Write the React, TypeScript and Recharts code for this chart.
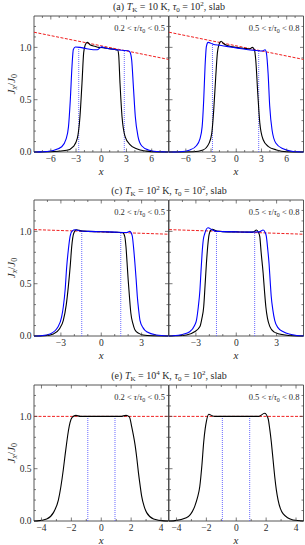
import React from 'react';
import { LineChart, Line, XAxis, YAxis, ReferenceArea, ReferenceLine } from 'recharts';

type P = [number, number];

// ---------- Row (a): T_K = 10 K ----------
const A_X_MAJOR = [-6, -3, 0, 3, 6];
const A_X_TICKS = [-7, -6, -5, -4, -3, -2, -1, 0, 1, 2, 3, 4, 5, 6, 7];
const A_L_BLACK: P[] = [[-8,0],[-6.1,0.002],[-4.1,0.016],[-3.3,0.054],[-2.85,0.13],[-2.53,0.34],[-2.29,0.66],[-2.09,0.95],[-1.9,1.025],[-1.66,1.048],[-1.34,1.025],[-0.74,1.01],[-0.3,1.0],[0.2,0.998],[0.8,0.99],[1.6,0.98],[1.95,0.975],[2.07,0.93],[2.23,0.66],[2.47,0.34],[2.83,0.15],[3.42,0.07],[4.2,0.03],[5.4,0.008],[6.6,0.001],[8,0]];
const A_L_BLUE: P[] = [[-8,0],[-7.3,0.001],[-5.7,0.015],[-4.7,0.05],[-4.2,0.12],[-3.9,0.24],[-3.68,0.5],[-3.48,0.82],[-3.32,0.98],[-3.08,1.003],[-2.53,1.0],[-1.73,0.987],[-0.94,0.978],[-0.47,0.978],[-0.15,0.995],[0.05,1.005],[0.45,0.995],[1.44,0.982],[2.43,0.972],[3.22,0.968],[3.42,0.955],[3.62,0.88],[3.82,0.63],[4.05,0.34],[4.37,0.15],[4.8,0.06],[5.6,0.02],[7,0.002],[8,0]];
const A_R_BLACK: P[] = [[-8,0],[-5.1,0.003],[-3.95,0.02],[-3.23,0.085],[-2.91,0.18],[-2.68,0.4],[-2.44,0.72],[-2.24,0.95],[-2.04,1.03],[-1.8,1.058],[-1.49,1.035],[-0.97,1.016],[0,1.0],[1.0,0.99],[1.6,0.985],[1.92,1.0],[2.16,0.978],[2.32,0.88],[2.56,0.56],[2.8,0.28],[3.19,0.12],[3.79,0.054],[4.78,0.02],[5.97,0.003],[8,0]];
const A_R_BLUE: P[] = [[-8,0],[-6.7,0.003],[-5.5,0.02],[-4.74,0.06],[-4.34,0.12],[-4.06,0.24],[-3.87,0.5],[-3.71,0.82],[-3.55,1.01],[-3.35,1.048],[-2.76,1.03],[-1.96,1.02],[-0.97,1.007],[0,0.995],[1.21,0.98],[2.4,0.97],[3.1,0.965],[3.43,0.978],[3.59,0.946],[3.79,0.75],[3.98,0.44],[4.26,0.21],[4.7,0.086],[5.57,0.03],[6.76,0.005],[8,0]];
const A_RED: P[] = [[-8,1.145],[8,0.885]];
const A_L_VLINES: P[] = [[-2.68,1.0],[2.74,0.972]];
const A_R_VLINES: P[] = [[-2.83,1.04],[2.67,0.972]];

// ---------- Row (c): T_K = 10^2 K ----------
const C_X_MAJOR = [-3, 0, 3];
const C_X_TICKS = [-4, -3, -2, -1, 0, 1, 2, 3, 4];
const C_L_BLACK: P[] = [[-5,0],[-4.2,0.003],[-3.56,0.02],[-3.1,0.07],[-2.82,0.15],[-2.6,0.3],[-2.45,0.47],[-2.3,0.68],[-2.2,0.85],[-2.05,0.98],[-1.85,1.015],[-1.5,1.005],[-1,1.0],[0,0.997],[1,0.992],[1.6,0.988],[1.75,0.95],[1.84,0.85],[1.92,0.7],[2.0,0.54],[2.1,0.37],[2.2,0.22],[2.35,0.12],[2.5,0.06],[2.8,0.025],[3.1,0.01],[3.8,0.002],[5,0]];
const C_L_BLUE: P[] = [[-5,0],[-4.5,0.003],[-3.8,0.02],[-3.2,0.09],[-2.95,0.18],[-2.82,0.28],[-2.68,0.45],[-2.57,0.66],[-2.45,0.82],[-2.32,0.95],[-2.15,1.005],[-1.95,1.015],[-1.5,1.003],[-1,1.0],[0,0.997],[1,0.993],[1.9,0.99],[2.12,1.0],[2.3,0.96],[2.4,0.85],[2.5,0.7],[2.6,0.53],[2.68,0.38],[2.78,0.25],[2.88,0.15],[3.1,0.08],[3.38,0.04],[4.1,0.01],[5,0.001]];
const C_R_BLACK: P[] = [[-5,0],[-4.5,0.002],[-3.7,0.01],[-3.1,0.04],[-2.7,0.09],[-2.55,0.17],[-2.42,0.28],[-2.32,0.48],[-2.22,0.69],[-2.12,0.86],[-2.02,0.97],[-1.9,1.01],[-1.77,1.02],[-1.45,1.003],[-1,0.998],[0,0.995],[1,0.993],[1.3,0.995],[1.5,1.013],[1.65,0.99],[1.75,0.95],[1.85,0.8],[2.0,0.6],[2.1,0.43],[2.2,0.28],[2.32,0.17],[2.5,0.09],[2.8,0.04],[3.2,0.02],[4.2,0.003],[5,0]];
const C_R_BLUE: P[] = [[-5,0],[-4.7,0.002],[-4.0,0.015],[-3.46,0.04],[-3.1,0.1],[-2.96,0.15],[-2.82,0.28],[-2.7,0.44],[-2.62,0.62],[-2.54,0.79],[-2.45,0.92],[-2.34,0.98],[-2.1,1.035],[-1.8,1.015],[-1.47,1.0],[-1,0.998],[0,0.995],[1,0.993],[1.7,0.995],[2.0,1.013],[2.15,0.99],[2.24,0.95],[2.34,0.83],[2.44,0.69],[2.52,0.53],[2.6,0.38],[2.72,0.25],[2.86,0.15],[3.1,0.08],[3.5,0.04],[4.5,0.005],[5,0.001]];
const C_RED: P[] = [[-5,1.017],[5,0.973]];
const C_L_VLINES: P[] = [[-1.45,1.0],[1.45,0.99]];
const C_R_VLINES: P[] = [[-1.47,1.0],[1.37,0.994]];

// ---------- Row (e): T_K = 10^4 K ----------
const E_X_MAJOR = [-4, -2, 0, 2, 4];
const E_X_TICKS = [-4, -3, -2, -1, 0, 1, 2, 3, 4];
const E_L_BLACK: P[] = [[-4.5,0],[-4.3,0.001],[-3.65,0.02],[-3.2,0.08],[-2.87,0.2],[-2.7,0.33],[-2.54,0.49],[-2.42,0.63],[-2.31,0.75],[-2.2,0.86],[-2.09,0.94],[-1.95,0.99],[-1.69,1.01],[-1.4,1.0],[0,1.0],[1.3,1.0],[1.66,1.01],[1.88,0.995],[2.04,0.9],[2.15,0.82],[2.26,0.73],[2.38,0.6],[2.49,0.46],[2.6,0.34],[2.7,0.24],[2.87,0.14],[3.04,0.08],[3.5,0.02],[4.2,0.001],[4.5,0]];
const E_R_BLACK: P[] = [[-4.5,0],[-4.2,0.001],[-3.34,0.03],[-2.78,0.14],[-2.6,0.22],[-2.44,0.33],[-2.3,0.53],[-2.18,0.75],[-2.08,0.88],[-2.0,0.95],[-1.84,1.02],[-1.6,1.005],[-1.44,1.0],[0,1.0],[1.5,1.0],[1.9,1.03],[2.13,0.98],[2.24,0.88],[2.35,0.75],[2.46,0.59],[2.57,0.43],[2.68,0.3],[2.8,0.2],[2.95,0.12],[3.13,0.07],[3.8,0.01],[4.5,0]];
const E_RED: P[] = [[-4.5,1.0],[4.5,1.0]];
const E_L_VLINES: P[] = [[-0.9,1.0],[0.92,1.0]];
const E_R_VLINES: P[] = [[-0.93,1.0],[0.9,1.0]];

const Y_TICKS = [0, 0.1, 0.2, 0.3, 0.4, 0.5, 0.6, 0.7, 0.8, 0.9, 1.0, 1.1, 1.2];
const Y_MAJOR = [0, 0.5, 1.0];

const FONT = '"Liberation Serif", "DejaVu Serif", serif';
const AX = '#444';
const TXT = '#2a2a2a';
const W = 134.5;
const H = 136;

const toPts = (a: P[]) => a.map(([x, y]) => ({ x, y }));
const fmtX = (v: number) => (v < 0 ? '\u2212' + Math.abs(v) : String(v));

const XTick = (props: any) => {
  const { x, y, payload, majors } = props;
  const v = payload.value;
  const major = majors.includes(v);
  const len = major ? 3.5 : 2;
  return (
    <g>
      <line x1={x} x2={x} y1={y} y2={y - len} stroke={AX} strokeWidth={0.7} />
      <line x1={x} x2={x} y1={y - H} y2={y - H + len} stroke={AX} strokeWidth={0.7} />
      {major && (
        <text x={x} y={y + 10} textAnchor="middle" fontSize={9.5} fontFamily={FONT} fill={TXT}>
          {fmtX(v)}
        </text>
      )}
    </g>
  );
};

const YTick = (props: any) => {
  const { x, y, payload, showLabel } = props;
  const v = payload.value;
  const major = Y_MAJOR.some((m) => Math.abs(m - v) < 1e-6);
  const len = major ? 3.5 : 2;
  return (
    <g>
      <line x1={x} x2={x + len} y1={y} y2={y} stroke={AX} strokeWidth={0.7} />
      <line x1={x + W} x2={x + W - len} y1={y} y2={y} stroke={AX} strokeWidth={0.7} />
      {major && showLabel && (
        <text x={x - 2.5} y={y + 3.3} textAnchor="end" fontSize={9.5} fontFamily={FONT} fill={TXT}>
          {v.toFixed(1)}
        </text>
      )}
    </g>
  );
};

interface PanelProps {
  left: number;
  top: number;
  domain: [number, number];
  xTicks: number[];
  xMajor: number[];
  showY: boolean;
  black: P[];
  blue?: P[];
  red: P[];
  vlines: P[];
}

function Panel({ left, top, domain, xTicks, xMajor, showY, black, blue, red, vlines }: PanelProps) {
  const ml = showY ? 32 : 4;
  const mr = 4;
  const mt = 4;
  const mb = 16;
  return (
    <div style={{ position: 'absolute', left: left - ml, top: top - mt }}>
      <LineChart width={W + ml + mr} height={H + mt + mb} margin={{ top: mt, right: mr, bottom: 0, left: 0 }}>
        <XAxis
          type="number"
          dataKey="x"
          domain={domain}
          ticks={xTicks}
          interval={0}
          height={mb}
          tickSize={0}
          tickMargin={0}
          axisLine={false}
          tickLine={false}
          tick={(p: any) => <XTick {...p} majors={xMajor} />}
        />
        <YAxis
          type="number"
          domain={[0, 1.3]}
          ticks={Y_TICKS}
          interval={0}
          width={ml}
          tickSize={0}
          tickMargin={0}
          axisLine={false}
          tickLine={false}
          tick={(p: any) => <YTick {...p} showLabel={showY} />}
        />
        <ReferenceArea x1={domain[0]} x2={domain[1]} y1={0} y2={1.3} fill="none" stroke={AX} strokeWidth={0.9} />
        {vlines.map(([vx, vy], i) => (
          <ReferenceLine
            key={'v' + i}
            segment={[{ x: vx, y: 0 }, { x: vx, y: vy }]}
            stroke="#6a6aff"
            strokeWidth={1}
            strokeDasharray="1 1"
          />
        ))}
        <Line
          data={toPts(red)}
          dataKey="y"
          type="linear"
          stroke="#f02020"
          strokeWidth={1}
          strokeDasharray="3 1.5"
          dot={false}
          activeDot={false}
          isAnimationActive={false}
        />
        <Line
          data={toPts(black)}
          dataKey="y"
          type="monotone"
          stroke="#000"
          strokeWidth={1.1}
          dot={false}
          activeDot={false}
          isAnimationActive={false}
        />
        {blue && (
          <Line
            data={toPts(blue)}
            dataKey="y"
            type="monotone"
            stroke="#0000ff"
            strokeWidth={1.1}
            dot={false}
            activeDot={false}
            isAnimationActive={false}
          />
        )}
      </LineChart>
    </div>
  );
}

const ROW_TOPS = [16.3, 200, 385.3];
const LEFT_X = 34;
const RIGHT_X = 168.5;

function Title({ y, tag, tk, tkSup }: { y: number; tag: string; tk: string; tkSup?: string }) {
  return (
    <text x={169} y={y} textAnchor="middle" fontSize={10} fontFamily={FONT} fill={TXT}>
      {tag + ' '}
      <tspan fontStyle="italic">T</tspan>
      <tspan fontSize={7} dy={2}>K</tspan>
      <tspan dy={-2}>{' = ' + tk}</tspan>
      {tkSup ? <tspan fontSize={7} dy={-4}>{tkSup}</tspan> : null}
      <tspan dy={tkSup ? 4 : 0}>{' K, '}</tspan>
      <tspan fontStyle="italic">τ</tspan>
      <tspan fontSize={7} dy={2}>0</tspan>
      <tspan dy={-2}>{' = 10'}</tspan>
      <tspan fontSize={7} dy={-4}>2</tspan>
      <tspan dy={4}>{', slab'}</tspan>
    </text>
  );
}

function Note({ x, y, lo, hi }: { x: number; y: number; lo: string; hi: string }) {
  return (
    <text x={x} y={y} textAnchor="end" fontSize={8.5} fontFamily={FONT} fill={TXT}>
      {lo + ' < '}
      <tspan fontStyle="italic">τ</tspan>
      {'/'}
      <tspan fontStyle="italic">τ</tspan>
      <tspan fontSize={6} dy={1.8}>0</tspan>
      <tspan dy={-1.8}>{' < ' + hi}</tspan>
    </text>
  );
}

function YLabel({ cy }: { cy: number }) {
  return (
    <text transform={`translate(14.5, ${cy}) rotate(-90)`} textAnchor="middle" fontSize={11} fontFamily={FONT} fill={TXT}>
      <tspan fontStyle="italic">J</tspan>
      <tspan fontStyle="italic" fontSize={8} dy={2}>x</tspan>
      <tspan dy={-2}>{'/'}</tspan>
      <tspan fontStyle="italic">J</tspan>
      <tspan fontSize={8} dy={2}>0</tspan>
    </text>
  );
}

export default function App() {
  const rows = [
    { domain: [-8, 8] as [number, number], xt: A_X_TICKS, xm: A_X_MAJOR, lb: A_L_BLACK, lbl: A_L_BLUE, rb: A_R_BLACK, rbl: A_R_BLUE, red: A_RED, lv: A_L_VLINES, rv: A_R_VLINES },
    { domain: [-5, 5] as [number, number], xt: C_X_TICKS, xm: C_X_MAJOR, lb: C_L_BLACK, lbl: C_L_BLUE, rb: C_R_BLACK, rbl: C_R_BLUE, red: C_RED, lv: C_L_VLINES, rv: C_R_VLINES },
    { domain: [-4.5, 4.5] as [number, number], xt: E_X_TICKS, xm: E_X_MAJOR, lb: E_L_BLACK, lbl: undefined, rb: E_R_BLACK, rbl: undefined, red: E_RED, lv: E_L_VLINES, rv: E_R_VLINES },
  ];
  return (
    <div style={{ position: 'absolute', left: 0, top: 0, width: 305, height: 545, background: '#fff', overflow: 'hidden' }}>
      {rows.map((r, i) => (
        <React.Fragment key={i}>
          <Panel left={LEFT_X} top={ROW_TOPS[i]} domain={r.domain} xTicks={r.xt} xMajor={r.xm} showY={true} black={r.lb} blue={r.lbl} red={r.red} vlines={r.lv} />
          <Panel left={RIGHT_X} top={ROW_TOPS[i]} domain={r.domain} xTicks={r.xt} xMajor={r.xm} showY={false} black={r.rb} blue={r.rbl} red={r.red} vlines={r.rv} />
        </React.Fragment>
      ))}
      <svg width={305} height={545} style={{ position: 'absolute', left: 0, top: 0, pointerEvents: 'none' }}>
        <Title y={9.5} tag="(a)" tk="10" />
        <Title y={193.5} tag="(c)" tk="10" tkSup="2" />
        <Title y={378.5} tag="(e)" tk="10" tkSup="4" />
        {ROW_TOPS.map((t, i) => (
          <React.Fragment key={i}>
            <Note x={165} y={t + 15} lo="0.2" hi="0.5" />
            <Note x={299.5} y={t + 15} lo="0.5" hi="0.8" />
            <YLabel cy={t + H / 2} />
            <text x={101.25} y={t + H + 23} textAnchor="middle" fontSize={11} fontStyle="italic" fontFamily={FONT} fill={TXT}>x</text>
            <text x={236} y={t + H + 23} textAnchor="middle" fontSize={11} fontStyle="italic" fontFamily={FONT} fill={TXT}>x</text>
          </React.Fragment>
        ))}
      </svg>
    </div>
  );
}
